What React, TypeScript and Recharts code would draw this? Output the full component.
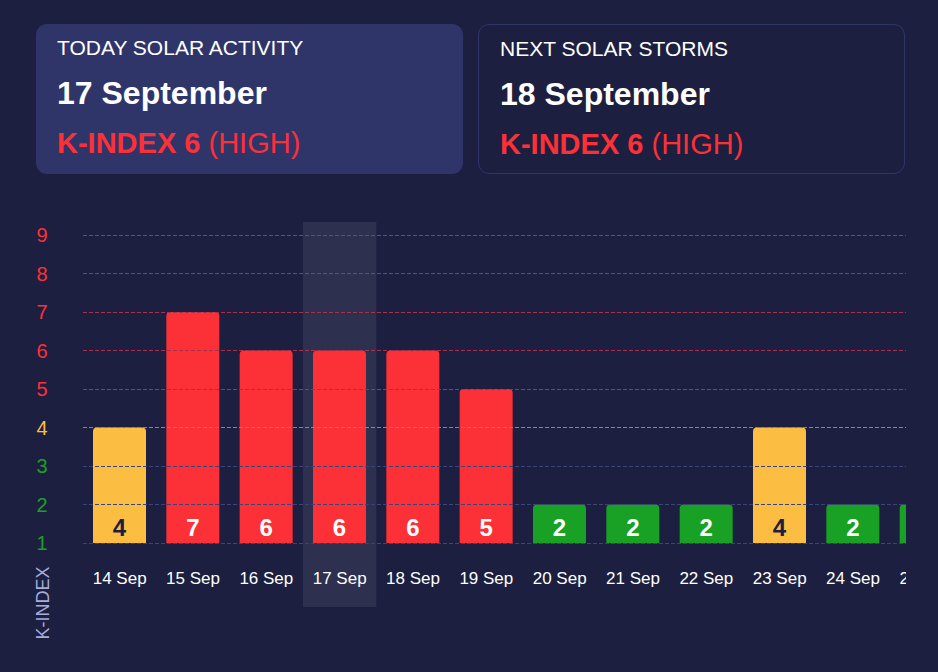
import {BarChart, Bar, XAxis, YAxis, ReferenceLine, ReferenceArea, LabelList, Cell} from 'recharts';

const days = ['14 Sep', '15 Sep', '16 Sep', '17 Sep', '18 Sep', '19 Sep', '20 Sep', '21 Sep', '22 Sep', '23 Sep', '24 Sep', '25 Sep'];
const kIndex = [4, 7, 6, 6, 6, 5, 2, 2, 2, 4, 2, 2];
const levels = [1, 2, 3, 4, 5, 6, 7, 8, 9];
const todayLabel = '17 Sep';

const FONT = '"Liberation Sans", Arial, Helvetica, sans-serif';
const BG = '#1c1f3f';
const RED = '#fc3037';
const YELLOW = '#fbbe42';
const GREEN = '#19a125';

const chartData = days.map((day, i) => ({day, k: kIndex[i]}));

function levelColor(v: number) {
    if (v >= 5) return RED;
    if (v === 4) return YELLOW;
    return GREEN;
}

function gridColor(v: number) {
    if (v >= 5) return '#a8304c';
    if (v === 4) return '#a8843c';
    return '#3c4378';
}

const YTick = (props: any) => {
    const {y, payload} = props;
    return (
        <text x={42} y={y} dy={7} textAnchor="middle" fontSize={20} fontFamily={FONT} fill={levelColor(payload.value)}>
            {payload.value}
        </text>
    );
};

const XTick = (props: any) => {
    const {x, y, payload} = props;
    return (
        <text x={x} y={y} dy={33} textAnchor="middle" fontSize={17} fontFamily={FONT} fill="#ffffff">
            {payload.value}
        </text>
    );
};

const BarValue = (props: any) => {
    const {x, y, width, height, value} = props;
    return (
        <text
            x={x + width / 2}
            y={y + height - 7}
            textAnchor="middle"
            fontSize={24}
            fontWeight="bold"
            fontFamily={FONT}
            fill={value === 4 ? BG : '#ffffff'}
        >
            {value}
        </text>
    );
};

const Highlight = (props: any) => {
    const {x, y, width, height} = props;
    return <rect x={x} y={y - 13} width={width} height={height + 77} fill="#ffffff" fillOpacity={0.08} />;
};

// snap dashed grid lines to the pixel grid so they stay crisp
const CrispLine = (props: any) => {
    const {x1, x2, y1, stroke, strokeDasharray} = props;
    const yy = Math.floor(y1) + 0.5;
    return <line x1={x1} x2={x2} y1={yy} y2={yy} stroke={stroke} strokeWidth={1} strokeDasharray={strokeDasharray} />;
};

function InfoCard({title, date, filled}: {title: string; date: string; filled: boolean}) {
    return (
        <div
            style={{
                position: 'absolute',
                top: 24,
                left: filled ? 36 : 478,
                width: filled ? 427 : 425,
                height: filled ? 150 : 148,
                borderRadius: 11,
                background: filled ? '#2f3569' : 'transparent',
                border: filled ? 'none' : '1px solid #2f3568',
                boxSizing: 'content-box',
                fontFamily: FONT,
            }}
        >
            <div style={{position: 'absolute', left: 21, top: 12, fontSize: 21, color: '#ffffff'}}>{title}</div>
            <div style={{position: 'absolute', left: 21, top: 51, fontSize: 32, fontWeight: 'bold', color: '#ffffff'}}>{date}</div>
            <div style={{position: 'absolute', left: 21, top: 103, fontSize: 29, color: RED}}>
                <span style={{fontWeight: 'bold'}}>K-INDEX 6</span> (HIGH)
            </div>
        </div>
    );
}

export default function App() {
    return (
        <div style={{position: 'absolute', left: 0, top: 0, width: 938, height: 672, background: BG, overflow: 'hidden'}}>
            <InfoCard title="TODAY SOLAR ACTIVITY" date="17 September" filled={true} />
            <InfoCard title="NEXT SOLAR STORMS" date="18 September" filled={false} />

            <div style={{position: 'absolute', left: 0, top: 200, width: 906, height: 472, overflow: 'hidden'}}>
                <BarChart width={963} height={472} data={chartData} margin={{top: 35, right: 0, left: 0, bottom: 69}} barSize={53}>
                    <ReferenceArea x1={todayLabel} x2={todayLabel} shape={<Highlight />} ifOverflow="visible" />
                    {levels.map((v) => (
                        <ReferenceLine
                            key={v}
                            y={v}
                            stroke={gridColor(v)}
                            strokeDasharray="4 2"
                            shape={<CrispLine />}
                        />
                    ))}
                    <XAxis dataKey="day" axisLine={false} tickLine={false} height={60} tick={<XTick />} interval={0} />
                    <YAxis
                        type="number"
                        domain={[1, 9]}
                        ticks={levels}
                        width={83}
                        axisLine={false}
                        tickLine={false}
                        tick={<YTick />}
                        interval={0}
                    />
                    <Bar dataKey="k" radius={[4, 4, 0, 0]} isAnimationActive={false}>
                        {chartData.map((d) => (
                            <Cell key={d.day} fill={levelColor(d.k)} />
                        ))}
                        <LabelList dataKey="k" content={<BarValue />} />
                    </Bar>
                </BarChart>
            </div>

            <div
                style={{
                    position: 'absolute',
                    left: 43,
                    top: 603,
                    transform: 'translate(-50%, -50%) rotate(-90deg)',
                    fontFamily: FONT,
                    fontSize: 18,
                    color: '#a9addc',
                    whiteSpace: 'nowrap',
                }}
            >
                K-INDEX
            </div>
        </div>
    );
}
